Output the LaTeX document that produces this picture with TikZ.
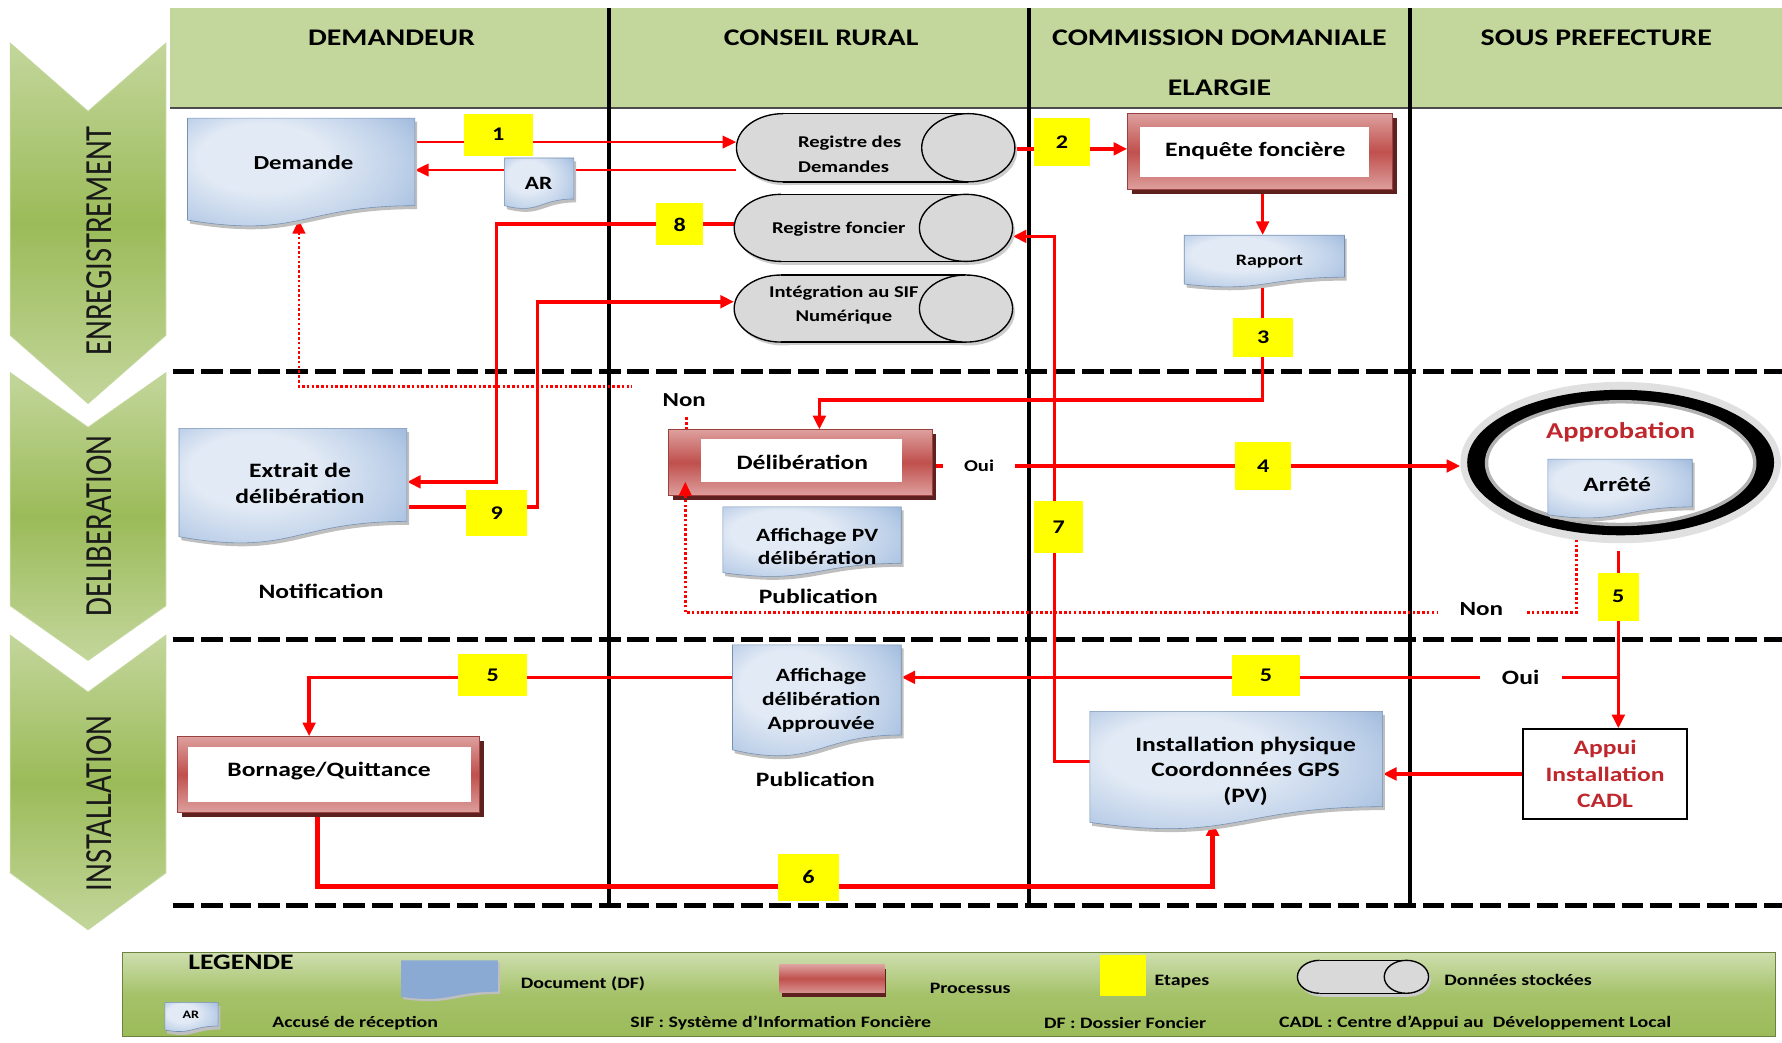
\documentclass[tikz,border=0pt]{standalone}
\usepackage{fontspec}
\setmainfont{Carlito}[FakeStretch=1.25]
\newfontfamily\rotfont{Carlito}[FakeStretch=0.8]
\usetikzlibrary{arrows.meta,shapes.geometric}
\pgfdeclarelayer{bg}
\pgfdeclarelayer{lines}
\pgfdeclarelayer{top}
\pgfsetlayers{bg,lines,main,top}
\definecolor{hdrgreen}{HTML}{C3D69B}
\definecolor{midgreen}{HTML}{9BBB59}
\definecolor{docL}{HTML}{E2EAF5}
\definecolor{docM}{HTML}{BCCFE8}
\definecolor{docD}{HTML}{8AAAD3}
\definecolor{procL}{HTML}{DDA09E}
\definecolor{procD}{HTML}{C0504D}
\definecolor{procS}{HTML}{5E2120}
\definecolor{cylgray}{HTML}{D9D9D9}
\definecolor{darkred}{HTML}{C0272D}
\definecolor{stepyellow}{HTML}{FFFF00}
\definecolor{redline}{HTML}{FF0000}
\pgfdeclareradialshading{docshading}{\pgfpoint{-12bp}{12bp}}{color(0bp)=(docL); color(14bp)=(docL); color(28bp)=(docM); color(42bp)=(docD); color(50bp)=(docD)}
\newcommand\fnt[2]{\fontsize{#1}{#2}\selectfont\bfseries}
\newcommand\DocShape[5][]{%
  \path[#1] (#2,#3) -- (#4,#3) -- (#4,{#3+0.802*#5})
    .. controls ({(#2+#4)/2},{#3+0.802*#5}) and ({(#2+#4)/2},{#3+1.107*#5}) .. (#2,{#3+0.934*#5}) -- cycle;}
\newcommand\Doc[5]{%
  \DocShape[fill=black!25,xshift=2pt,yshift=-3pt]{#2}{#3}{#4}{#5}%
  \DocShape[shade,shading=docshading,draw=docD!85!black,line width=0.5pt]{#2}{#3}{#4}{#5}%
  \node[inner sep=0,minimum width={#4-#2},minimum height={0.93*#5}] (#1) at ({(#2+#4)/2},{#3+0.465*#5}) {};}
\newcommand\Proc[9]{%
  \fill[procS] ({#2+4},{#3+4}) rectangle ({#4+4},{#5+4});
  \path[top color=procL,bottom color=procL,middle color=procD,draw=procD!80!black,line width=0.6pt] (#2,#3) rectangle (#4,#5);
  \fill[white] (#6,#7) rectangle (#8,#9);
  \node[inner sep=0,minimum width={#4-#2},minimum height={#5-#3}] (#1) at ({(#2+#4)/2},{(#3+#5)/2}) {};}
\newcommand\Cyl[6]{%
  \pgfmathsetmacro\cyry{(#5-#3)/2}\pgfmathsetmacro\cycy{(#3+#5)/2}%
  \fill[black!20] ({#2+#6+2},{\cycy+3}) ellipse [x radius=#6, y radius=\cyry];
  \fill[black!20] ({#2+#6+2},{#3+3}) rectangle ({#4-#6+2},{#5+3});
  \fill[black!20] ({#4-#6+2},{\cycy+3}) ellipse [x radius=#6, y radius=\cyry];
  \fill[cylgray] ({#2+#6},\cycy) ellipse [x radius=#6, y radius=\cyry];
  \fill[cylgray] ({#2+#6},#3) rectangle ({#4-#6},#5);
  \draw[line width=1.2pt] ({#2+#6},#3) -- ({#4-#6},#3) ({#2+#6},#5) -- ({#4-#6},#5);
  \draw[line width=1.2pt] ({#2+#6},#3) arc[start angle=270,end angle=90,x radius=#6,y radius=\cyry];
  \draw[line width=1.2pt,fill=cylgray] ({#4-#6},\cycy) ellipse [x radius=#6, y radius=\cyry];
  \node[inner sep=0,minimum width={#4-#2},minimum height={#5-#3}] (#1) at ({(#2+#4)/2},\cycy) {};}
\newcommand\Chev[3]{%
  \path[top color=hdrgreen,bottom color=hdrgreen,middle color=midgreen,draw=midgreen!60!white,line width=0.8pt]
    (9,#1) -- (77.5,{#1+#2}) -- (146,#1) -- (146,#3) -- (77.5,{#3+#2}) -- (9,#3) -- cycle;}
\begin{document}
\begin{tikzpicture}[x=1pt,y=-1pt,
  redA/.style={draw=redline,line width=2pt},
  redB/.style={draw=redline,line width=3.2pt},
  redC/.style={draw=redline,line width=4.5pt},
  arrowed/.style={-{Triangle[length=12pt,width=11pt]}},
  dotl/.style={draw=redline,line width=2.2pt,dash pattern=on 2.2pt off 2pt},
  stepbox/.style={fill=stepyellow,inner sep=0,font=\fnt{17}{20}},
  txt/.style={inner sep=0,align=center},
  lbl/.style={fill=white,inner sep=0},
  hdr/.style={font=\fnt{21}{26},inner sep=0},
  leg/.style={font=\fnt{14}{17},inner sep=0},
  rot/.style={rotate=90,inner sep=0,font=\rotfont\fontsize{33.75}{36}\selectfont,text=black!90}
]
\useasboundingbox (0,0) rectangle (1568,917);
\begin{pgfonlayer}{bg}
  \fill[hdrgreen] (150,7) rectangle (1568,95);
  \draw[line width=1.5pt,black!70] (150,95) -- (1568,95);
  \Chev{38}{60}{295}
  \Chev{328}{48}{533}
  \Chev{559}{50}{768}
  \path[top color=hdrgreen!80!white,bottom color=midgreen,middle color=midgreen!75!hdrgreen,draw=midgreen!70!black,line width=1pt] (108,838) rectangle (1562,912);
  \foreach \yy in {327,563,797} {\draw[line width=4.5pt,dash pattern=on 19pt off 6pt] (152,\yy) -- (1568,\yy);}
  \foreach \xx in {536,905.5,1240.5} {\draw[line width=4pt] (\xx,7) -- (\xx,797);}
\end{pgfonlayer}

% lane labels
\node[rot] (lane1) at (87.7,212) {ENREGISTREMENT};
\node[rot] (lane2) at (87.7,463) {DELIBERATION};
\node[rot] (lane3) at (87.7,707) {INSTALLATION};
\node[hdr] (h1) at (344.5,33) {DEMANDEUR};
\node[hdr] (h2) at (722.5,33) {CONSEIL RURAL};
\node[hdr] (h3) at (1073,33) {COMMISSION DOMANIALE};
\node[hdr] (h3b) at (1073,77) {ELARGIE};
\node[hdr] (h4) at (1404.6,33) {SOUS PREFECTURE};

% shapes
\Doc{demande}{165}{104}{365}{96}
\node[txt,font=\fnt{17.5}{21}] (tdemande) at (267,143) {Demande};
\Doc{ar}{444}{139}{505}{45}
\node[txt,font=\fnt{16.5}{20}] (tar) at (474,161) {AR};
\Cyl{regd}{648}{100}{893}{160}{41}
\node[txt,align=left,anchor=west,font=\fnt{14.5}{22}] (tregd) at (702,136) {Registre des\\Demandes};
\Cyl{regf}{646}{171}{891}{230}{41}
\node[txt,font=\fnt{14.5}{21}] (tregf) at (738,202) {Registre foncier};
\Cyl{integ}{646}{242}{891}{301}{41}
\node[txt,font=\fnt{14.5}{21}] (tinteg) at (742.5,268) {Intégration au SIF\\Numérique};
\Proc{enq}{992}{100}{1225}{167}{1003}{112}{1205}{156}
\node[txt,font=\fnt{18}{22}] (tenq) at (1104.5,133) {Enquête foncière};
\Doc{rapport}{1042}{207}{1183}{46}
\node[txt,font=\fnt{14}{18}] (trapport) at (1117,230) {Rapport};
\Doc{extrait}{157.5}{377}{358}{102}
\node[txt,font=\fnt{18}{23}] (textrait) at (264,425.5) {Extrait de\\délibération};
\Proc{delib}{588}{378}{820}{436}{617}{386}{794}{424}
\node[txt,font=\fnt{18}{22}] (tdelib) at (706,406.5) {Délibération};
\Doc{affpv}{636}{446}{793}{62}
\node[txt,font=\fnt{16.5}{20}] (taffpv) at (719,481) {Affichage PV\\délibération};
\fill[black!12] (1426,407) ellipse [x radius=141, y radius=71];
\fill[black] (1426,407) ellipse [x radius=135, y radius=64];
\draw[black!30,line width=3pt,fill=white] (1426,407.5) ellipse [x radius=118, y radius=54];
\node[ellipse,inner sep=0,minimum width=282,minimum height=142] (approb) at (1426,407) {};
\node[txt,font=\fnt{20}{24},text=darkred] (tapprob) at (1426,380) {Approbation};
\Doc{arrete}{1362}{404}{1489}{52.4}
\node[txt,font=\fnt{18}{22}] (tarrete) at (1423,426) {Arrêté};
\Doc{affapp}{644.5}{567.5}{793}{98.8}
\node[txt,font=\fnt{16.5}{21}] (taffapp) at (722.6,616) {Affichage\\délibération\\Approuvée};
\Proc{borne}{156}{648}{421.6}{715}{165.4}{657}{414}{706}
\node[txt,font=\fnt{18}{22}] (tborne) at (289.5,678.4) {Bornage/Quittance};
\Doc{install}{959}{626}{1216.6}{104.5}
\node[txt,font=\fnt{18}{22.5}] (tinstall) at (1096,678.5) {Installation physique\\Coordonnées GPS\\(PV)};
\node[draw,line width=1.3pt,fill=white,minimum width=144.5,minimum height=79,inner sep=0,align=center,text=darkred,font=\fnt{18}{23}] (appui) at (1412.3,681) {Appui\\Installation\\CADL};
\node[txt,font=\fnt{18}{22}] (notif) at (282.5,520) {Notification};
\node[txt,font=\fnt{18}{22}] (pub1) at (720,525) {Publication};
\node[txt,font=\fnt{18}{22}] (pub2) at (717.5,685.5) {Publication};

% coordinates for free ends
\coordinate (a5) at (1424,485);
\coordinate (j5) at (1424,596);
\coordinate (k6) at (1067,780);
\coordinate (dnon) at (1387,475);
\coordinate (dtip) at (603,424);

% connectors
\begin{pgfonlayer}{lines}
  \draw[redA,arrowed] (demande.east |- 0,125) -- (regd.west |- 0,125);
  \draw[redA,arrowed] (regd.west |- 0,149.6) -- (demande.east |- 0,149.6);
  \draw[redB,arrowed] (regd.east |- 0,131) -- (enq.west |- 0,131);
  \draw[redB,arrowed] (enq.south -| 1111,0) -- (rapport.north -| 1111,0);
  \draw[redB,arrowed] (rapport.south -| 1111,0) -- (1111,352) -| (delib.north -| 721,0);
  \draw[redB,arrowed] (delib.east |- 0,410) -- (approb.west |- 0,410);
  \draw[redB,arrowed] (a5) -- (appui.north -| a5);
  \draw[redB,arrowed] (j5) -- (affapp.east |- j5);
  \draw[redB,arrowed] (affapp.west |- j5) -| (borne.north -| 272,0);
  \draw[redC,arrowed] (borne.south -| 279,0) |- (k6) -- (install.south -| k6);
  \draw[redB,arrowed] (install.west |- 0,670) -| (928,208) -- (regf.east |- 0,208);
  \draw[redB,arrowed] (regf.west |- 0,197) -| (437,424) -- (extrait.east |- 0,424);
  \draw[redB,arrowed] (extrait.east |- 0,446) -| (473,265.5) -- (integ.west |- 0,265.5);
  \draw[redB,arrowed] (appui.west |- 0,681) -- (install.east |- 0,681);
  \draw[dotl,arrowed] (delib.north -| 604,0) |- (263,340) -- (demande.south -| 263,0);
\end{pgfonlayer}

\begin{pgfonlayer}{top}
  \draw[dotl,arrowed] (dnon) |- (603,539) -- (dtip);
  \node[lbl,font=\fnt{17.5}{21},minimum width=92,minimum height=28] (non1) at (602,352) {Non};
  \node[lbl,font=\fnt{14.5}{18},minimum width=63,minimum height=20] (oui1) at (861.5,410) {Oui};
  \node[lbl,font=\fnt{17.7}{21},minimum width=77,minimum height=22] (non2) at (1303.5,536) {Non};
  \node[lbl,font=\fnt{18}{22},minimum width=72,minimum height=22] (oui2) at (1338,596) {Oui};
  \node[stepbox,minimum width=61,minimum height=37] (s1) at (438.5,118.5) {1};
  \node[stepbox,minimum width=49,minimum height=42] (s2) at (934.5,125) {2};
  \node[stepbox,minimum width=42,minimum height=37] (s8) at (598,197.5) {8};
  \node[stepbox,minimum width=53,minimum height=34] (s3) at (1111.5,297) {3};
  \node[stepbox,minimum width=49,minimum height=42] (s4) at (1111.5,410) {4};
  \node[stepbox,minimum width=54,minimum height=41] (s9) at (437,451.5) {9};
  \node[stepbox,minimum width=43,minimum height=46] (s7) at (931.5,463.7) {7};
  \node[stepbox,minimum width=36,minimum height=42] (s5a) at (1424,525) {5};
  \node[stepbox,minimum width=60,minimum height=36] (s5b) at (1114,594) {5};
  \node[stepbox,minimum width=61,minimum height=37] (s5c) at (433.5,594) {5};
  \node[stepbox,minimum width=53,minimum height=41] (s6) at (711.5,772) {6};
\end{pgfonlayer}

% legend
\node[font=\fnt{19.5}{22},inner sep=0] (legt) at (212,847) {LEGENDE};
\DocShape[fill=black!25,xshift=2pt,yshift=-2pt]{353}{845}{438}{34.4}
\DocShape[fill=docD]{353}{845}{438}{34.4}
\node[leg] (legdoc) at (513,866) {Document (DF)};
\fill[procS] (688,853) rectangle (780,877);
\path[top color=procL,bottom color=procL!80!procD,middle color=procD] (686,849) rectangle (778.7,873);
\node[leg] (legproc) at (853.7,870) {Processus};
\fill[stepyellow] (967.5,840) rectangle (1008,876.5);
\node[leg] (legstep) at (1040,864) {Etapes};
\Cyl{legcyl}{1141.6}{845}{1257}{874}{19.5}
\node[leg] (legdata) at (1335.7,862) {Données stockées};
\Doc{legar}{145}{882}{192}{26}
\node[font=\fnt{10}{12},inner sep=0] (legartxt) at (168,893) {AR};
\node[leg] (legaccuse) at (312.5,900) {Accusé de réception};
\node[leg] (legsif) at (687,900) {SIF : Système d’Information Foncière};
\node[leg] (legdf) at (990,900) {DF : Dossier Foncier};
\node[leg] (legcadl) at (1298,900) {CADL : Centre d’Appui au\ \ Développement Local};
\end{tikzpicture}
\end{document}
